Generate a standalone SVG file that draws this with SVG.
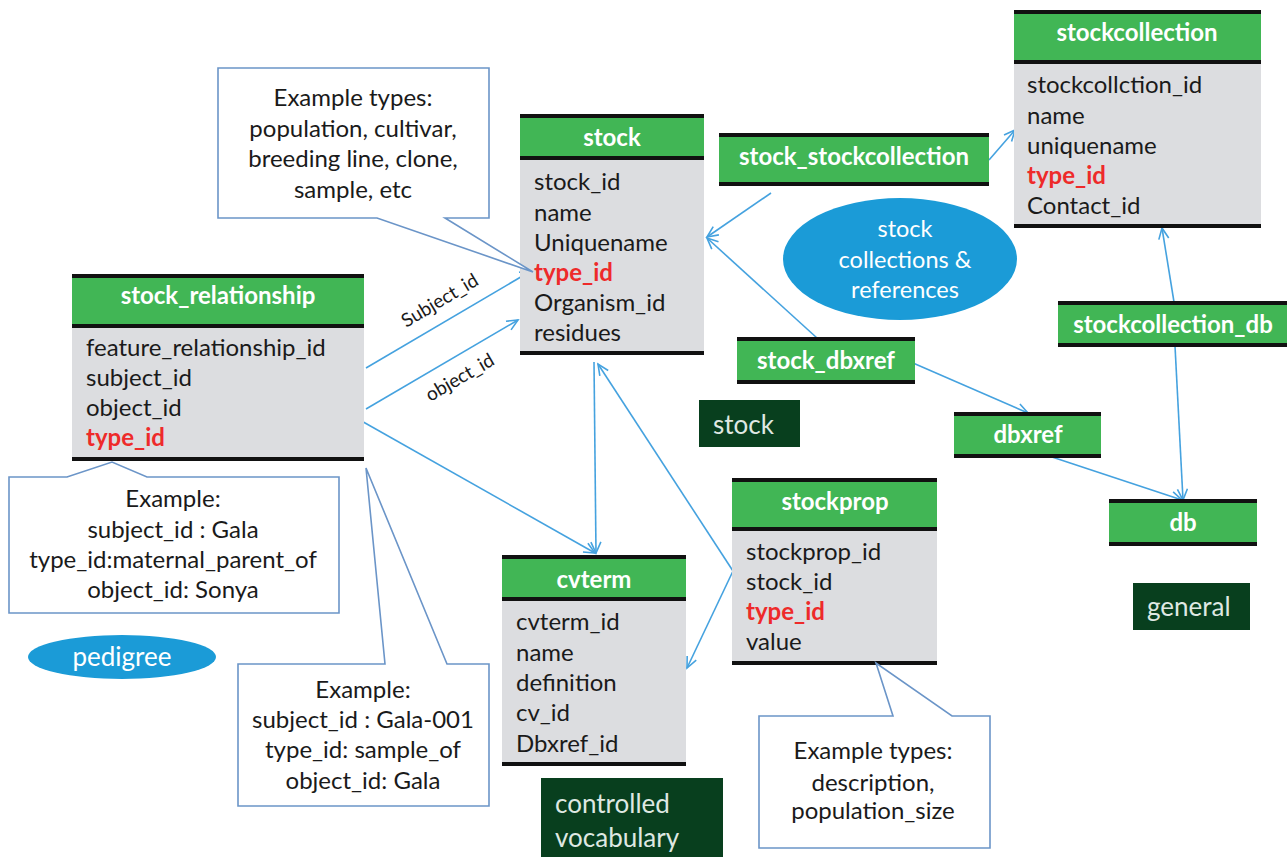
<svg xmlns="http://www.w3.org/2000/svg" width="1287" height="857" viewBox="0 0 1287 857">
<defs>
<style>
text{font-family:Lato,"Open Sans","Liberation Sans",sans-serif}
.hdr{fill:#41b655}
.body{fill:#dcdde0}
.bar{stroke:#111;stroke-width:4}
.ht{fill:#fff;font-weight:bold;font-size:24px;text-anchor:middle}
.row{fill:#1a1a1a;font-size:24px}
.red{fill:#ee2a2a;font-weight:bold}
.call{fill:#fff;stroke:#6b95c8;stroke-width:1.6}
.ct{fill:#1a1a1a;font-size:24px;text-anchor:middle}
.con{fill:none;stroke:#45a2df;stroke-width:1.6;marker-end:url(#arr)}
.lab{fill:#1a1a1a;font-size:19px;text-anchor:middle}
.dark{fill:#083f1e}
.dt{fill:#dfe8e2;font-size:26px}
.ell{fill:#1b9bd7}
.et{fill:#fff;font-size:23.5px;text-anchor:middle}
</style>
<marker id="arr" markerWidth="14" markerHeight="14" refX="12" refY="6" orient="auto" markerUnits="userSpaceOnUse">
<path d="M1,1 L12,6 L1,11" fill="none" stroke="#45a2df" stroke-width="1.6"/>
</marker>
</defs>
<rect width="1287" height="857" fill="#fff"/>

<g id="connectors">
<path class="con" d="M366,368 L531,271"/>
<path class="con" d="M366,409 L518,320"/>
<path class="con" d="M358,419 L595,553"/>
<path class="con" d="M594,362 L596,553"/>
<path class="con" d="M733,571 L598,364"/>
<path class="con" d="M733,571 L687,668"/>
<path class="con" d="M771,193 L707,237"/>
<path class="con" d="M817,338 L707,238"/>
<path class="con" d="M989,160 L1015,130"/>
<path class="con" d="M1174,302 L1162,228"/>
<path class="con" d="M1175,346 L1183,500"/>
<path class="con" d="M913,363 L1028,413"/>
<path class="con" d="M1052,457 L1182,500"/>
<text class="lab" transform="translate(443,306) rotate(-31)">Subject_id</text>
<text class="lab" transform="translate(463,383) rotate(-30)">object_id</text>
</g>

<g id="stock_relationship">
<rect class="hdr" x="72" y="275" width="292" height="51"/>
<rect class="body" x="72" y="326" width="292" height="133"/>
<line class="bar" x1="72" y1="276" x2="364" y2="276"/>
<line class="bar" x1="72" y1="326" x2="364" y2="326"/>
<line class="bar" x1="72" y1="459" x2="364" y2="459"/>
<text class="ht" x="218" y="304">stock_relationship</text>
<text class="row" x="86" y="356">feature_relationship_id</text>
<text class="row" x="86" y="386">subject_id</text>
<text class="row" x="86" y="416">object_id</text>
<text class="row red" x="86" y="446">type_id</text>
</g>

<g id="stock">
<rect class="hdr" x="520" y="115" width="184" height="43"/>
<rect class="body" x="520" y="158" width="184" height="195"/>
<line class="bar" x1="520" y1="116" x2="704" y2="116"/>
<line class="bar" x1="520" y1="158" x2="704" y2="158"/>
<line class="bar" x1="520" y1="353" x2="704" y2="353"/>
<text class="ht" x="612" y="146">stock</text>
<text class="row" x="534" y="190">stock_id</text>
<text class="row" x="534" y="221">name</text>
<text class="row" x="534" y="251">Uniquename</text>
<text class="row red" x="534" y="281">type_id</text>
<text class="row" x="534" y="311">Organism_id</text>
<text class="row" x="534" y="341">residues</text>
</g>

<g id="stockcollection">
<rect class="hdr" x="1014" y="11" width="247" height="51"/>
<rect class="body" x="1014" y="62" width="247" height="164"/>
<line class="bar" x1="1014" y1="12" x2="1261" y2="12"/>
<line class="bar" x1="1014" y1="62" x2="1261" y2="62"/>
<line class="bar" x1="1014" y1="226" x2="1261" y2="226"/>
<text class="ht" x="1137" y="41">stockcollection</text>
<text class="row" x="1027" y="93">stockcollction_id</text>
<text class="row" x="1027" y="124">name</text>
<text class="row" x="1027" y="154">uniquename</text>
<text class="row red" x="1027" y="184">type_id</text>
<text class="row" x="1027" y="214">Contact_id</text>
</g>

<g id="stock_stockcollection">
<rect class="hdr" x="719" y="134" width="270" height="51"/>
<line class="bar" x1="719" y1="135" x2="989" y2="135"/>
<line class="bar" x1="719" y1="184" x2="989" y2="184"/>
<text class="ht" x="854" y="165">stock_stockcollection</text>
</g>

<g id="stock_dbxref">
<rect class="hdr" x="737" y="338" width="178" height="45"/>
<line class="bar" x1="737" y1="339" x2="915" y2="339"/>
<line class="bar" x1="737" y1="382" x2="915" y2="382"/>
<text class="ht" x="826" y="369">stock_dbxref</text>
</g>

<g id="stockcollection_db">
<rect class="hdr" x="1058" y="302" width="229" height="44"/>
<line class="bar" x1="1058" y1="303" x2="1287" y2="303"/>
<line class="bar" x1="1058" y1="345" x2="1287" y2="345"/>
<text class="ht" x="1173" y="333">stockcollection_db</text>
</g>

<g id="dbxref">
<rect class="hdr" x="954" y="413" width="147" height="44"/>
<line class="bar" x1="954" y1="414" x2="1101" y2="414"/>
<line class="bar" x1="954" y1="456" x2="1101" y2="456"/>
<text class="ht" x="1028" y="443">dbxref</text>
</g>

<g id="db">
<rect class="hdr" x="1109" y="500" width="148" height="45"/>
<line class="bar" x1="1109" y1="501" x2="1257" y2="501"/>
<line class="bar" x1="1109" y1="544" x2="1257" y2="544"/>
<text class="ht" x="1183" y="531">db</text>
</g>

<g id="stockprop">
<rect class="hdr" x="732" y="479" width="205" height="50"/>
<rect class="body" x="732" y="529" width="205" height="134"/>
<line class="bar" x1="732" y1="480" x2="937" y2="480"/>
<line class="bar" x1="732" y1="529" x2="937" y2="529"/>
<line class="bar" x1="732" y1="663" x2="937" y2="663"/>
<text class="ht" x="835" y="510">stockprop</text>
<text class="row" x="746" y="560">stockprop_id</text>
<text class="row" x="746" y="590">stock_id</text>
<text class="row red" x="746" y="620">type_id</text>
<text class="row" x="746" y="650">value</text>
</g>

<g id="cvterm">
<rect class="hdr" x="502" y="556" width="184" height="43"/>
<rect class="body" x="502" y="599" width="184" height="165"/>
<line class="bar" x1="502" y1="557" x2="686" y2="557"/>
<line class="bar" x1="502" y1="599" x2="686" y2="599"/>
<line class="bar" x1="502" y1="764" x2="686" y2="764"/>
<text class="ht" x="594" y="588">cvterm</text>
<text class="row" x="516" y="630">cvterm_id</text>
<text class="row" x="516" y="661">name</text>
<text class="row" x="516" y="691">definition</text>
<text class="row" x="516" y="721">cv_id</text>
<text class="row" x="516" y="752">Dbxref_id</text>
</g>

<g id="callout_stock_types">
<path class="call" d="M218,68 H489 V218 H445 L533,272 L377,218 H218 Z"/>
<text class="ct" x="353" y="106">Example types:</text>
<text class="ct" x="353" y="137">population, cultivar,</text>
<text class="ct" x="353" y="167">breeding line, clone,</text>
<text class="ct" x="353" y="198">sample, etc</text>
</g>

<g id="callout_pedigree_example">
<path class="call" d="M9,477 H67 L112,462 L147,477 H339 V613 H9 Z"/>
<text class="ct" x="173" y="507">Example:</text>
<text class="ct" x="173" y="538">subject_id : Gala</text>
<text class="ct" x="173" y="568">type_id:maternal_parent_of</text>
<text class="ct" x="173" y="598">object_id: Sonya</text>
</g>

<g id="callout_sample_example">
<path class="call" d="M238,664 H385 L366,468 L447,664 H489 V806 H238 Z"/>
<text class="ct" x="363" y="698">Example:</text>
<text class="ct" x="363" y="728">subject_id : Gala-001</text>
<text class="ct" x="363" y="758">type_id: sample_of</text>
<text class="ct" x="363" y="789">object_id: Gala</text>
</g>

<g id="callout_stockprop_types">
<path class="call" d="M759,716 H893 L876,663 L952,716 H990 V848 H759 Z"/>
<text class="ct" x="873" y="759">Example types:</text>
<text class="ct" x="873" y="791">description,</text>
<text class="ct" x="873" y="819">population_size</text>
</g>

<g id="label_collections">
<ellipse class="ell" cx="900" cy="259" rx="117" ry="61"/>
<text class="et" x="905" y="237">stock</text>
<text class="et" x="905" y="268">collections &amp;</text>
<text class="et" x="905" y="298">references</text>
</g>

<g id="label_pedigree">
<ellipse class="ell" cx="122" cy="657" rx="94" ry="22"/>
<text class="et" style="font-size:26px" x="122" y="666">pedigree</text>
</g>

<g id="label_stock">
<rect class="dark" x="699" y="400" width="101" height="47"/>
<text class="dt" x="713" y="434">stock</text>
</g>

<g id="label_general">
<rect class="dark" x="1133" y="583" width="117" height="47"/>
<text class="dt" x="1147" y="616">general</text>
</g>

<g id="label_cv">
<rect class="dark" x="541" y="778" width="182" height="79"/>
<text class="dt" x="555" y="813">controlled</text>
<text class="dt" x="555" y="847">vocabulary</text>
</g>
</svg>
